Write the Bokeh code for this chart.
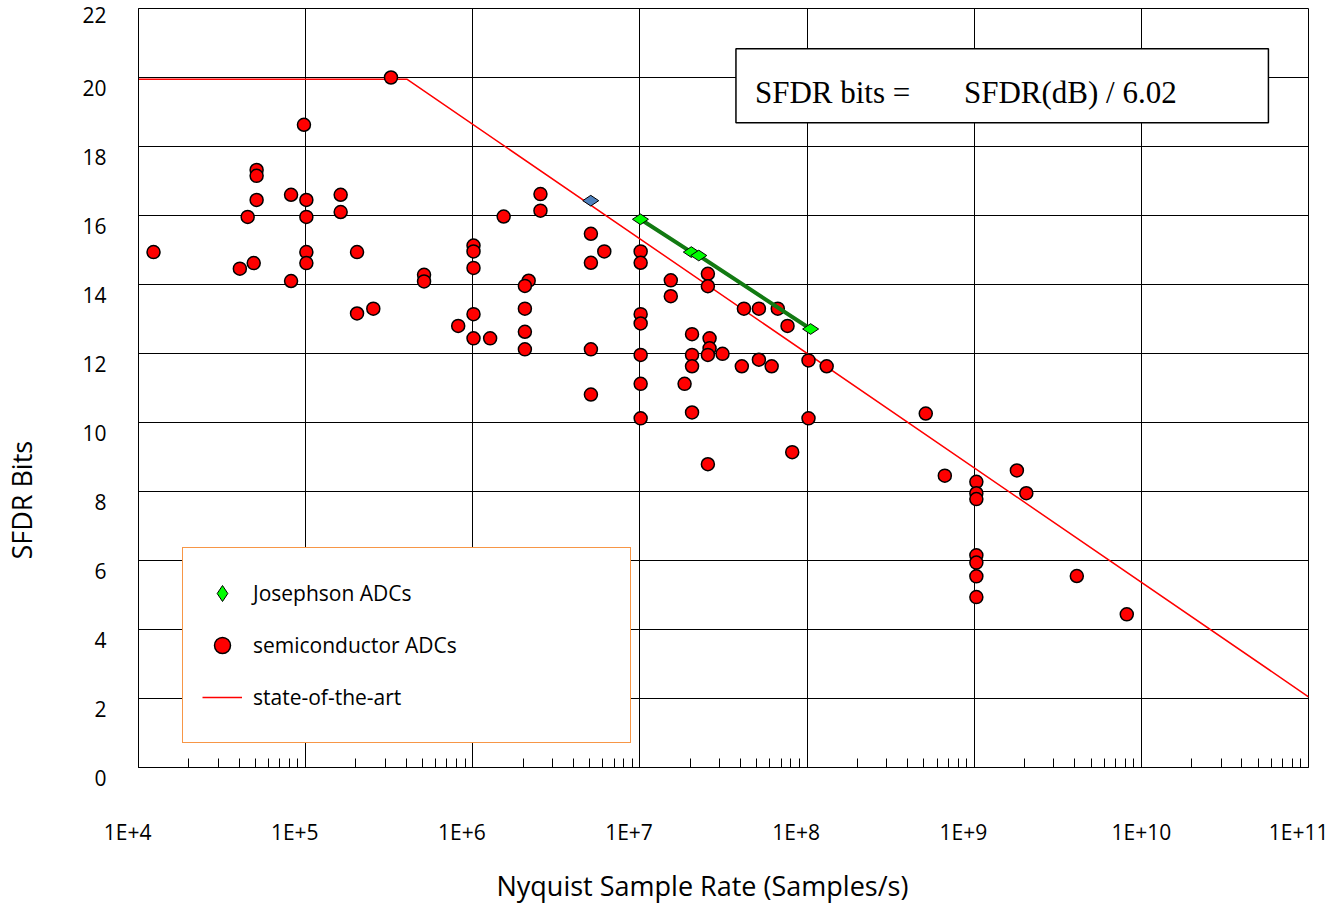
import math
from bokeh.plotting import figure
from bokeh.models import (Range1d, FixedTicker, CustomJSTickFormatter, Legend, LegendItem,
                          BoxAnnotation, Label)
from bokeh.embed import file_html
from bokeh.resources import INLINE

# ---------------- data ----------------
semi_rate = [1.23e4, 3.24e5, 9.77e4, 5.09e4, 5.09e4, 5.09e4, 4.50e4, 8.18e4, 1.01e5, 1.01e5,
             1.62e5, 1.62e5, 2.03e5, 4.04e4, 4.89e4, 1.01e5, 1.01e5, 8.18e4, 5.11e5, 5.11e5,
             2.03e5, 2.54e5,
             2.54e6, 2.54e6, 1.53e6, 1.01e6, 1.01e6, 1.01e6, 1.01e6, 8.18e5, 1.01e6, 1.27e6,
             2.16e6, 2.05e6, 2.05e6, 2.05e6, 2.05e6,
             5.09e6, 6.12e6, 5.09e6, 5.09e6, 5.09e6,
             1.01e7, 1.01e7, 1.01e7, 1.01e7, 1.01e7, 1.01e7, 1.01e7,
             1.53e7, 1.53e7, 2.55e7, 2.55e7, 2.05e7, 2.05e7, 2.05e7, 1.85e7, 2.05e7, 2.61e7,
             2.61e7, 2.55e7, 3.12e7, 2.55e7,
             4.19e7, 5.15e7, 6.68e7, 7.64e7, 4.07e7, 5.15e7, 6.14e7, 1.02e8, 1.31e8, 1.02e8,
             8.15e7,
             5.13e8, 6.67e8, 1.03e9, 1.03e9, 1.03e9, 1.80e9, 2.05e9, 1.03e9, 1.03e9, 1.03e9,
             1.03e9, 4.11e9, 8.18e9]
semi_bits = [14.94, 20.0, 18.63, 17.32, 17.15, 16.45, 15.96, 16.6, 16.45, 15.96,
             16.6, 16.1, 14.94, 14.46, 14.62, 14.94, 14.62, 14.1, 14.28, 14.09,
             13.16, 13.3,
             16.62, 16.14, 15.97, 15.13, 14.96, 14.48, 13.14, 12.8, 12.44, 12.44,
             14.11, 13.96, 13.3, 12.63, 12.12,
             15.47, 14.96, 14.63, 12.12, 10.81,
             14.96, 14.63, 13.14, 12.87, 11.96, 11.12, 10.12,
             14.12, 13.66, 14.31, 13.95, 12.56, 11.96, 11.63, 11.12, 10.29, 12.44,
             12.15, 11.96, 11.99, 8.79,
             13.3, 13.3, 13.3, 12.8, 11.63, 11.82, 11.63, 11.8, 11.63, 10.12,
             9.14,
             10.26, 8.46, 8.28, 7.95, 7.78, 8.61, 7.95, 6.15, 5.94, 5.54,
             4.94, 5.55, 4.44]

jj_rate = [1.007e7, 2.03e7, 2.25e7, 1.05e8]
jj_bits = [15.89, 14.94, 14.84, 12.71]

other_rate = [5.08e6]
other_bits = [16.43]

sota_rate = [1e4, 4.03e5, 1e11]
sota_bits = [19.95, 19.95, 2.05]

x_ticks = [1e4, 1e5, 1e6, 1e7, 1e8, 1e9, 1e10, 1e11]
x_minor = [k * 10.0 ** d for d in range(4, 11) for k in range(2, 10)]
y_ticks = [0, 2, 4, 6, 8, 10, 12, 14, 16, 18, 20, 22]

legend_labels = ["Josephson ADCs", "semiconductor ADCs", "state-of-the-art"]
x_title = "Nyquist Sample Rate (Samples/s)"
y_title = "SFDR Bits"
formula_left = "SFDR bits ="
formula_right = "SFDR(dB) / 6.02"

# ---------------- figure ----------------
FONT = "Open Sans"
NBSP = "\u00a0"
p = figure(width=1328, height=906, x_axis_type="log",
           x_range=Range1d(1e4, 1e11), y_range=Range1d(0, 22),
           output_backend="svg", toolbar_location=None, title=None,
           min_border=0, min_border_left=136, min_border_right=20,
           min_border_top=8, min_border_bottom=134)
p.background_fill_color = "white"
p.border_fill_color = "white"
p.outline_line_color = "black"
p.outline_line_width = 1

xa = p.xaxis[0]
xa.ticker = FixedTicker(ticks=x_ticks, minor_ticks=x_minor)
xa.formatter = CustomJSTickFormatter(code="""
const e = Math.round(Math.log10(tick));
const pad = e < 10 ? "\\u00a0\\u00a0\\u00a0\\u00a0" : "";
return "1E+" + e + pad;
""")
xa.major_tick_in = 0
xa.major_tick_out = 0
xa.minor_tick_in = 9
xa.minor_tick_out = 0
xa.minor_tick_line_color = "black"
xa.axis_line_color = "black"
xa.major_label_standoff = 50
xa.major_label_text_font = FONT
xa.major_label_text_font_size = "21px"
xa.major_label_text_color = "black"
xa.axis_label = x_title + NBSP * 6
xa.axis_label_standoff = 18
xa.axis_label_text_font = FONT
xa.axis_label_text_font_size = "27px"
xa.axis_label_text_font_style = "normal"
xa.axis_label_text_color = "black"

ya = p.yaxis[0]
ya.ticker = FixedTicker(ticks=y_ticks)
ya.formatter = CustomJSTickFormatter(
    code='const s = tick.toFixed(0); return tick >= 22 ? s : "\\n" + s;')
ya.major_tick_in = 0
ya.major_tick_out = 0
ya.minor_tick_in = 0
ya.minor_tick_out = 0
ya.axis_line_color = "black"
ya.major_label_standoff = 32
ya.major_label_text_font = FONT
ya.major_label_text_font_size = "21px"
ya.major_label_text_color = "black"
ya.major_label_text_line_height = 0.72
ya.axis_label = y_title + NBSP * 32
ya.axis_label_standoff = 39
ya.axis_label_text_font = FONT
ya.axis_label_text_font_size = "27px"
ya.axis_label_text_font_style = "normal"
ya.axis_label_text_color = "black"

for g in (p.xgrid[0], p.ygrid[0]):
    g.grid_line_color = "black"
    g.grid_line_width = 1
    g.grid_line_alpha = 1

# ---------------- glyphs ----------------
r_sota = p.line(sota_rate, sota_bits, line_color="#FF0000", line_width=1.5)
r_semi = p.scatter(semi_rate, semi_bits, marker="circle", size=13,
                   fill_color="#FF0000", line_color="black", line_width=1.5)
p.line(jj_rate, jj_bits, line_color="#127A12", line_width=4)
p.scatter(other_rate, other_bits, marker="diamond", angle=math.pi / 2, size=16,
          fill_color="#4F81BD", line_color="black", line_width=1)
r_jj = p.scatter(jj_rate, jj_bits, marker="diamond", angle=math.pi / 2, size=16,
                 fill_color="#00FF00", line_color="black", line_width=1)

# ---------------- legend ----------------
legend = Legend(items=[LegendItem(label=legend_labels[0], renderers=[r_jj]),
                       LegendItem(label=legend_labels[1], renderers=[r_semi]),
                       LegendItem(label=legend_labels[2], renderers=[r_sota])],
                location=(44, 24), orientation="vertical",
                padding=19, spacing=0, margin=0,
                glyph_width=40, glyph_height=52, label_height=52, label_width=358,
                label_standoff=11,
                border_line_color="#F79646", border_line_width=1.5, border_line_alpha=1,
                background_fill_color="white", background_fill_alpha=1,
                label_text_font=FONT, label_text_font_size="21px",
                label_text_color="black")
p.add_layout(legend, "center")

# ---------------- formula box ----------------
box = BoxAnnotation(left=3.754e7, right=5.757e10, bottom=18.69, top=20.83,
                    fill_color="white", fill_alpha=1,
                    line_color="black", line_width=1.5, line_alpha=1)
p.add_layout(box)
p.add_layout(Label(x=3.754e7, y=18.69, x_offset=19, y_offset=30, text=formula_left,
                   text_font="Liberation Serif", text_font_size="31px",
                   text_align="left", text_baseline="middle", text_color="black"))
p.add_layout(Label(x=3.754e7, y=18.69, x_offset=228, y_offset=30, text=formula_right,
                   text_font="Liberation Serif", text_font_size="31px",
                   text_align="left", text_baseline="middle", text_color="black"))

open("out.html", "w").write(file_html(p, INLINE))
